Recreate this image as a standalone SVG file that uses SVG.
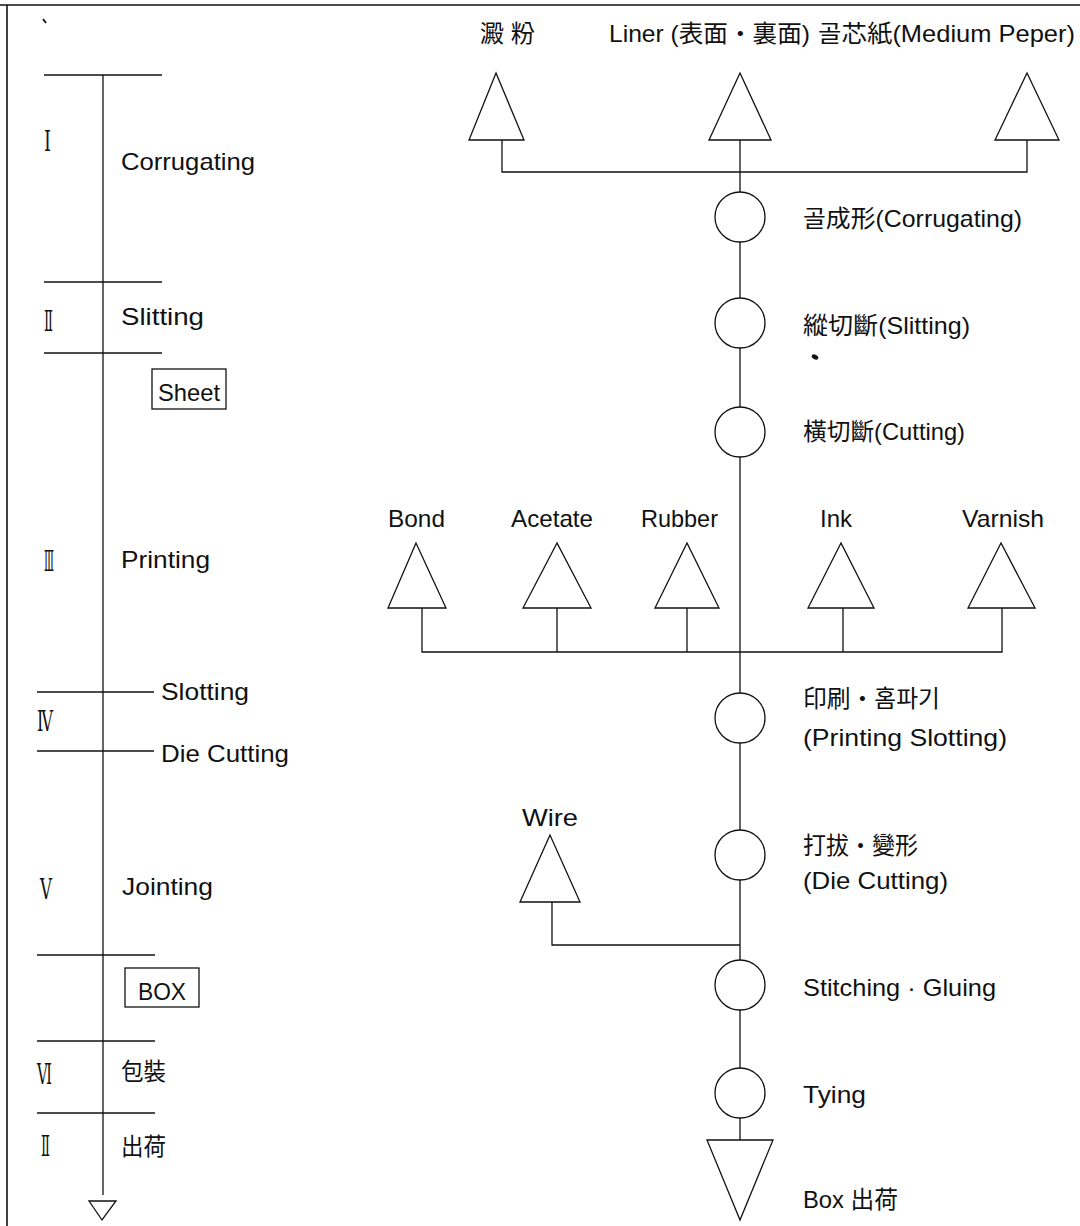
<svg xmlns="http://www.w3.org/2000/svg" width="1080" height="1226" viewBox="0 0 1080 1226">
<style>
.ln{stroke:#111;stroke-width:1.3;fill:none}
.sh{stroke:#111;stroke-width:1.3;fill:#fff}
.t{font-family:"Liberation Sans","Noto Sans CJK KR",sans-serif;font-size:24px;fill:#111}
.r{font-family:"Liberation Serif","DejaVu Serif","Noto Sans CJK KR",serif;font-size:28px;fill:#111}
</style>
<rect width="1080" height="1226" fill="#fff"/>
<g id="frame">
<line class="ln" x1="0" y1="5" x2="1080" y2="5" style="stroke-width:1.6"/>
<line class="ln" x1="7" y1="5" x2="7" y2="1226" style="stroke-width:1.6"/>
<line class="ln" x1="43" y1="19" x2="46" y2="23" style="stroke-width:1.8"/>
</g>
<g id="timeline">
<line class="ln" x1="103" y1="75" x2="103" y2="1195"/>
<line class="ln" x1="44" y1="75" x2="162" y2="75"/>
<line class="ln" x1="44" y1="282" x2="162" y2="282"/>
<line class="ln" x1="44" y1="353" x2="162" y2="353"/>
<line class="ln" x1="37" y1="692" x2="154" y2="692"/>
<line class="ln" x1="37" y1="751" x2="154" y2="751"/>
<line class="ln" x1="37" y1="955" x2="155" y2="955"/>
<line class="ln" x1="37" y1="1041" x2="155" y2="1041"/>
<line class="ln" x1="37" y1="1113" x2="155" y2="1113"/>
<polygon class="sh" points="89,1201 116,1201 102,1220"/>
<text class="r" x="44" y="151" textLength="7" lengthAdjust="spacingAndGlyphs">Ⅰ</text>
<text class="r" x="44" y="331" textLength="9" lengthAdjust="spacingAndGlyphs">Ⅱ</text>
<text class="r" x="44" y="571" textLength="10" lengthAdjust="spacingAndGlyphs">Ⅲ</text>
<text class="r" x="37" y="731" textLength="16" lengthAdjust="spacingAndGlyphs">Ⅳ</text>
<text class="r" x="40" y="899" textLength="12" lengthAdjust="spacingAndGlyphs">Ⅴ</text>
<text class="r" x="37" y="1084" textLength="15" lengthAdjust="spacingAndGlyphs">Ⅵ</text>
<text class="r" x="41" y="1156" textLength="9" lengthAdjust="spacingAndGlyphs">Ⅱ</text>
<text class="t" x="121" y="170" textLength="134" lengthAdjust="spacingAndGlyphs">Corrugating</text>
<text class="t" x="121" y="325" textLength="83" lengthAdjust="spacingAndGlyphs">Slitting</text>
<g id="sheet">
<rect class="sh" x="152" y="369" width="74" height="40"/>
<text class="t" x="158" y="401" textLength="62" lengthAdjust="spacingAndGlyphs">Sheet</text>
</g>
<text class="t" x="121" y="568" textLength="89" lengthAdjust="spacingAndGlyphs">Printing</text>
<text class="t" x="161" y="700" textLength="88" lengthAdjust="spacingAndGlyphs">Slotting</text>
<text class="t" x="161" y="762" textLength="128" lengthAdjust="spacingAndGlyphs">Die Cutting</text>
<text class="t" x="122" y="895" textLength="91" lengthAdjust="spacingAndGlyphs">Jointing</text>
<g id="box">
<rect class="sh" x="125" y="968" width="74" height="39"/>
<text class="t" x="138" y="1000" textLength="48" lengthAdjust="spacingAndGlyphs">BOX</text>
</g>
<text class="t" x="121" y="1080" textLength="45" lengthAdjust="spacingAndGlyphs">包裝</text>
<text class="t" x="121" y="1155" textLength="45" lengthAdjust="spacingAndGlyphs">出荷</text>
</g>
<g id="connectors">
<line class="ln" x1="740" y1="140" x2="740" y2="1140"/>
<polyline class="ln" points="502,140 502,172 1027,172 1027,140"/>
<polyline class="ln" points="422,608 422,652 1002,652 1002,608"/>
<line class="ln" x1="557" y1="608" x2="557" y2="652"/>
<line class="ln" x1="687" y1="608" x2="687" y2="652"/>
<line class="ln" x1="843" y1="608" x2="843" y2="652"/>
<polyline class="ln" points="552,902 552,945 740,945"/>
</g>
<g id="in-starch"><polygon class="sh" points="496,73 469,140 524,140"/><text class="t" x="480" y="42">澱 粉</text></g>
<g id="in-liner"><polygon class="sh" points="740,73 709,140 771,140"/><text class="t" x="609" y="42" textLength="201" lengthAdjust="spacingAndGlyphs">Liner (表面・裏面)</text></g>
<g id="in-medium"><polygon class="sh" points="1027,73 995,140 1059,140"/><text class="t" x="818" y="42" textLength="257" lengthAdjust="spacingAndGlyphs">골芯紙(Medium Peper)</text></g>
<g id="p-corrugating"><circle class="sh" cx="740" cy="217" r="25"/><text class="t" x="803" y="227" textLength="219" lengthAdjust="spacingAndGlyphs">골成形(Corrugating)</text></g>
<g id="p-slitting"><circle class="sh" cx="740" cy="323" r="25"/><text class="t" x="803" y="334" textLength="167" lengthAdjust="spacingAndGlyphs">縱切斷(Slitting)</text><ellipse cx="815" cy="357" rx="3.5" ry="2.3" fill="#111" transform="rotate(30 815 357)"/></g>
<g id="p-cutting"><circle class="sh" cx="740" cy="432" r="25"/><text class="t" x="803" y="440" textLength="162" lengthAdjust="spacingAndGlyphs">橫切斷(Cutting)</text></g>
<g id="in-bond"><polygon class="sh" points="416,543 388,608 446,608"/><text class="t" x="388" y="527" textLength="57" lengthAdjust="spacingAndGlyphs">Bond</text></g>
<g id="in-acetate"><polygon class="sh" points="557,543 523,608 591,608"/><text class="t" x="511" y="527" textLength="82" lengthAdjust="spacingAndGlyphs">Acetate</text></g>
<g id="in-rubber"><polygon class="sh" points="687,543 655,608 719,608"/><text class="t" x="641" y="527" textLength="77" lengthAdjust="spacingAndGlyphs">Rubber</text></g>
<g id="in-ink"><polygon class="sh" points="841,543 808,608 874,608"/><text class="t" x="820" y="527" textLength="32" lengthAdjust="spacingAndGlyphs">Ink</text></g>
<g id="in-varnish"><polygon class="sh" points="1001,543 968,608 1035,608"/><text class="t" x="962" y="527" textLength="82" lengthAdjust="spacingAndGlyphs">Varnish</text></g>
<g id="p-printing"><circle class="sh" cx="740" cy="718" r="25"/><text class="t" x="803" y="707" textLength="137" lengthAdjust="spacingAndGlyphs">印刷・홈파기</text><text class="t" x="803" y="746" textLength="204" lengthAdjust="spacingAndGlyphs">(Printing Slotting)</text></g>
<g id="in-wire"><polygon class="sh" points="550,835 520,902 580,902"/><text class="t" x="522" y="826" textLength="56" lengthAdjust="spacingAndGlyphs">Wire</text></g>
<g id="p-diecut"><circle class="sh" cx="740" cy="855" r="25"/><text class="t" x="803" y="854" textLength="115" lengthAdjust="spacingAndGlyphs">打拔・變形</text><text class="t" x="803" y="889" textLength="145" lengthAdjust="spacingAndGlyphs">(Die Cutting)</text></g>
<g id="p-stitching"><circle class="sh" cx="740" cy="985" r="25"/><text class="t" x="803" y="996" textLength="193" lengthAdjust="spacingAndGlyphs">Stitching · Gluing</text></g>
<g id="p-tying"><circle class="sh" cx="740" cy="1093" r="25"/><text class="t" x="803" y="1103" textLength="63" lengthAdjust="spacingAndGlyphs">Tying</text></g>
<g id="out-box"><polygon class="sh" points="707,1140 773,1140 740,1220"/><text class="t" x="803" y="1208" textLength="95" lengthAdjust="spacingAndGlyphs">Box 出荷</text></g>
</svg>
